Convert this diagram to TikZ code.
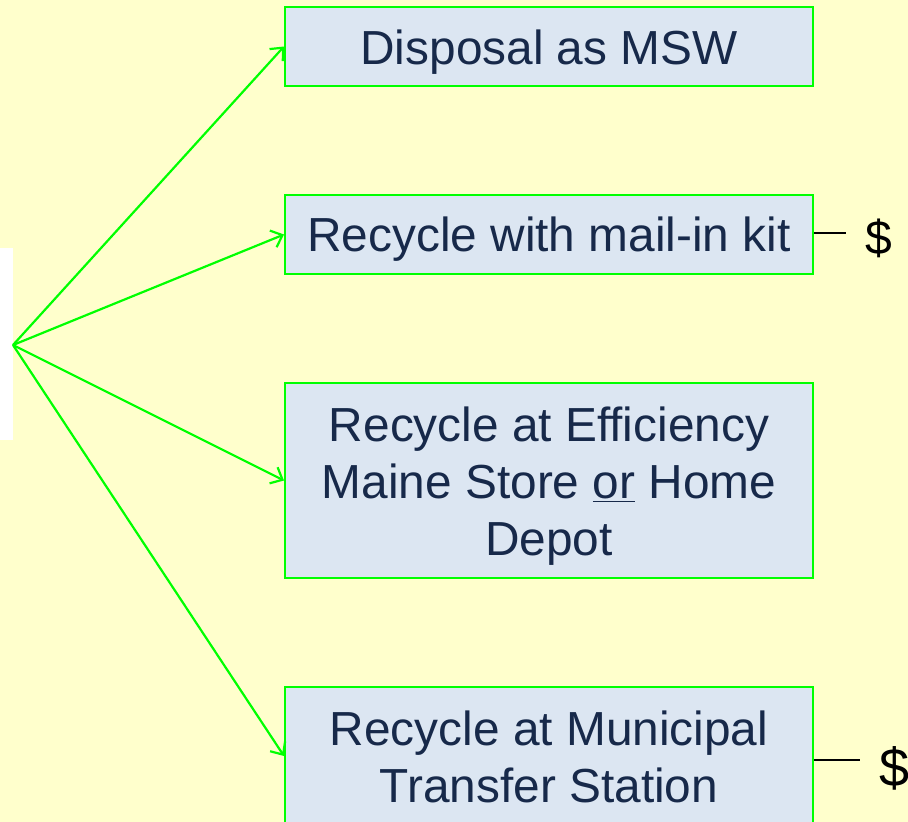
\documentclass[tikz,border=0pt]{standalone}
\usepackage{fontspec}
\setmainfont{Liberation Sans}
\usetikzlibrary{arrows.meta}
\definecolor{bg}{HTML}{FFFFCC}
\definecolor{boxfill}{HTML}{DCE6F2}
\definecolor{grn}{HTML}{00FF00}
\definecolor{txt}{HTML}{17294A}
\tikzset{
  optbox/.style={draw=grn, line width=2pt, fill=boxfill, minimum width=528pt,
    inner sep=0pt},
  optlbl/.style={align=center, inner sep=0pt, text=txt,
    font=\fontsize{47.8}{57}\selectfont},
  link/.style={draw=grn, line width=2.2pt, -{Straight Barb[length=10pt,width=18pt,line width=2.2pt]}},
  cost/.style={draw=black, line width=1.5pt},
  costlbl/.style={text=black, inner sep=0pt}
}
\begin{document}
\begin{tikzpicture}[x=1pt,y=1pt]
\useasboundingbox (0,0) rectangle (908,-822);
\clip (0,0) rectangle (908,-822);
\fill[bg] (0,0) rectangle (908,-822);
\fill[white] (0,-248) rectangle (13,-440);
\coordinate (o) at (13,-345);
\node[optbox, minimum height=79pt] (b1) at (549,-46.5) {};
\node[optbox, minimum height=79pt] (b2) at (549,-234.5) {};
\node[optbox, minimum height=195pt] (b3) at (549,-480.5) {};
\node[optbox, minimum height=138pt] (b4) at (549,-756) {};
\node[optlbl, yshift=-5.5pt] (t1) at (b1.center) {Disposal as MSW};
\node[optlbl, yshift=-5pt] (t2) at (b2.center) {Recycle with mail-in kit};
\node[optlbl, yshift=-6pt] (t3) at (b3.center) {Recycle at Efficiency\\ Maine Store \underline{or} Home\\ Depot};
\node[optlbl, yshift=-1pt] (t4) at (b4.center) {Recycle at Municipal\\ Transfer Station};
\draw[link] (o) -- (b1.west);
\draw[link] (o) -- (b2.west);
\draw[link] (o) -- (b3.west);
\draw[link] (o) -- (b4.west);
\coordinate (c1) at (846,-233);
\coordinate (c2a) at (b4.east |- 0,-760);
\coordinate (c2) at (860,-760);
\draw[cost] (b2.east |- c1) -- (c1);
\draw[cost] (c2a) -- (c2);
\node[costlbl, font=\fontsize{48}{57}\selectfont] (d1) at (879,-238.5) {\$};
\node[costlbl, font=\fontsize{54}{65}\selectfont] (d2) at (894.5,-768) {\$};
\end{tikzpicture}
\end{document}
